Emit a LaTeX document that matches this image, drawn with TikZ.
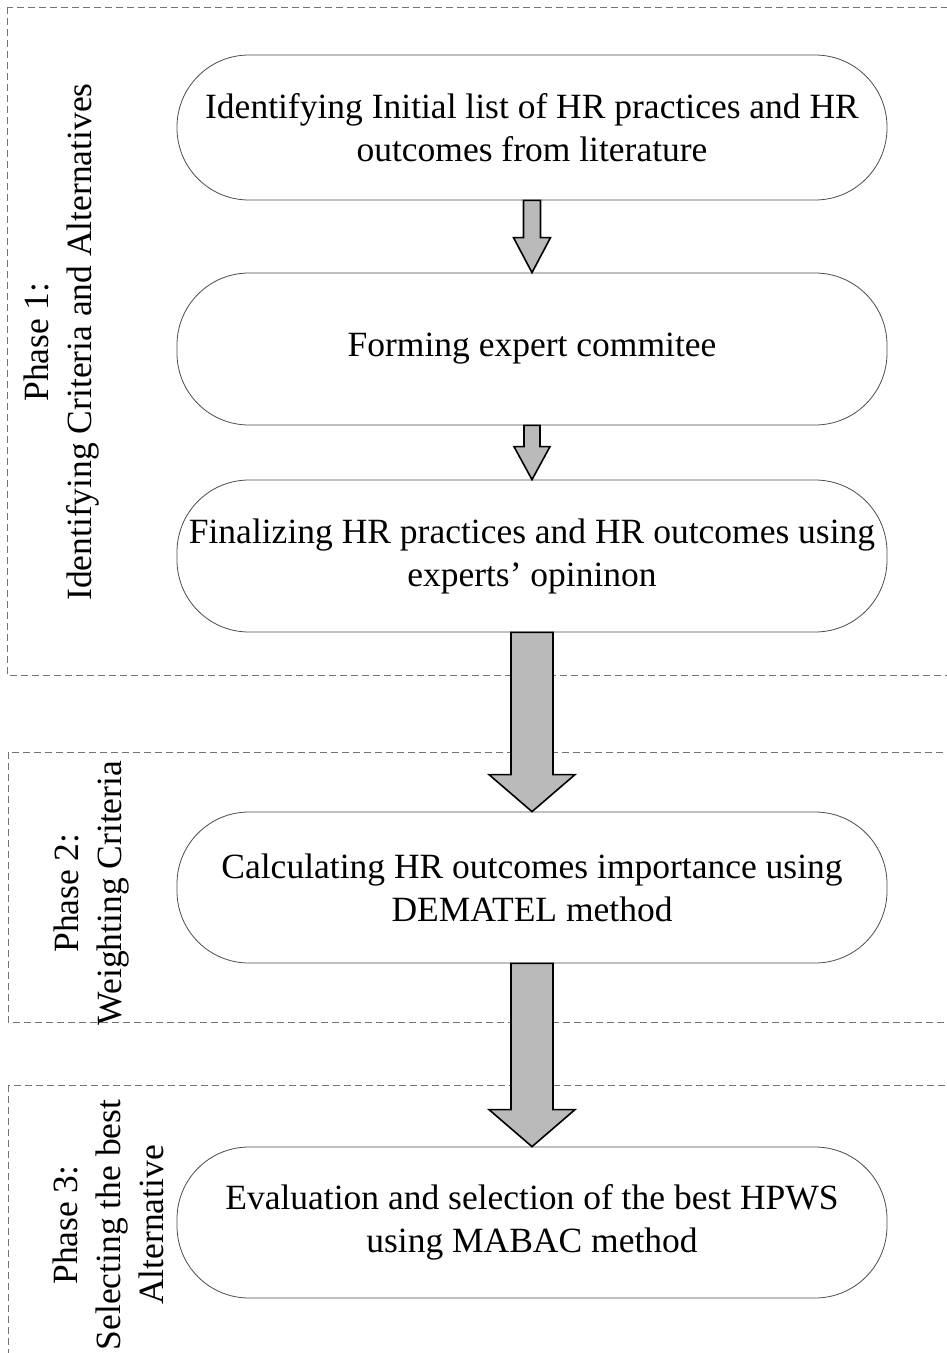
\documentclass[tikz,border=0pt]{standalone}
\usepackage{fontspec}
\setmainfont{Liberation Serif}
\usetikzlibrary{calc}

% fat block arrow: from, to, half shaft, half head, head length
\newcommand{\flowarrow}[5]{%
  \draw[arr] ($(#1.south)+(-#3,0)$) -- ($(#2.north)+(-#3,-#5)$) -- ($(#2.north)+(-#4,-#5)$)
    -- (#2.north) -- ($(#2.north)+(#4,-#5)$) -- ($(#2.north)+(#3,-#5)$) -- ($(#1.south)+(#3,0)$) -- cycle;}

\begin{document}
\begin{tikzpicture}[x=1pt, y=-1pt,
    stepbox/.style={draw=black!70, line width=0.8pt, rounded corners=72pt, minimum width=710pt,
      align=center, font=\fontsize{35.5}{43}\selectfont, inner sep=0pt},
    phase/.style={draw=black!55, dashed, line width=0.8pt, dash pattern=on 7pt off 4pt},
    plabel/.style={rotate=90, align=center, font=\fontsize{35.5}{43}\selectfont},
    arr/.style={draw=black, fill=black!27, line width=1.6pt, line join=miter}
]
\useasboundingbox (0,0) rectangle (947,1353);
\clip (0,0) rectangle (947,1353);

% phase frames
\draw[phase] (7,7) rectangle (970,675);
\draw[phase] (8,752) rectangle (970,1022);
\draw[phase] (8,1085) rectangle (970,1400);

\node[plabel] (p1) at (62,342) {Phase 1:\\Identifying Criteria and Alternatives};
\node[plabel] (p2) at (92,893) {Phase 2:\\Weighting Criteria};
\node[plabel] (p3) at (108,1225) {Phase 3:\\Selecting the best\\Alternative};

% steps
\node[stepbox, minimum height=145pt] (lit) at (532,127.5) {Identifying Initial list of HR practices and HR\\outcomes from literature};
\node[stepbox, minimum height=152pt] (expert) at (532,349) {Forming expert commitee};
\node[stepbox, minimum height=152pt] (final) at (532,556) {Finalizing HR practices and HR outcomes using\\experts’ opininon};
\node[stepbox, minimum height=151pt] (dematel) at (532,887.5) {Calculating HR outcomes importance using\\DEMATEL method};
\node[stepbox, minimum height=151pt] (mabac) at (532,1222.5) {Evaluation and selection of the best HPWS\\using MABAC method};

\flowarrow{lit}{expert}{8.5}{18.5}{35}
\flowarrow{expert}{final}{8}{18}{33}
\flowarrow{final}{dematel}{21}{43}{37}
\flowarrow{dematel}{mabac}{21}{43}{37}
\end{tikzpicture}
\end{document}
